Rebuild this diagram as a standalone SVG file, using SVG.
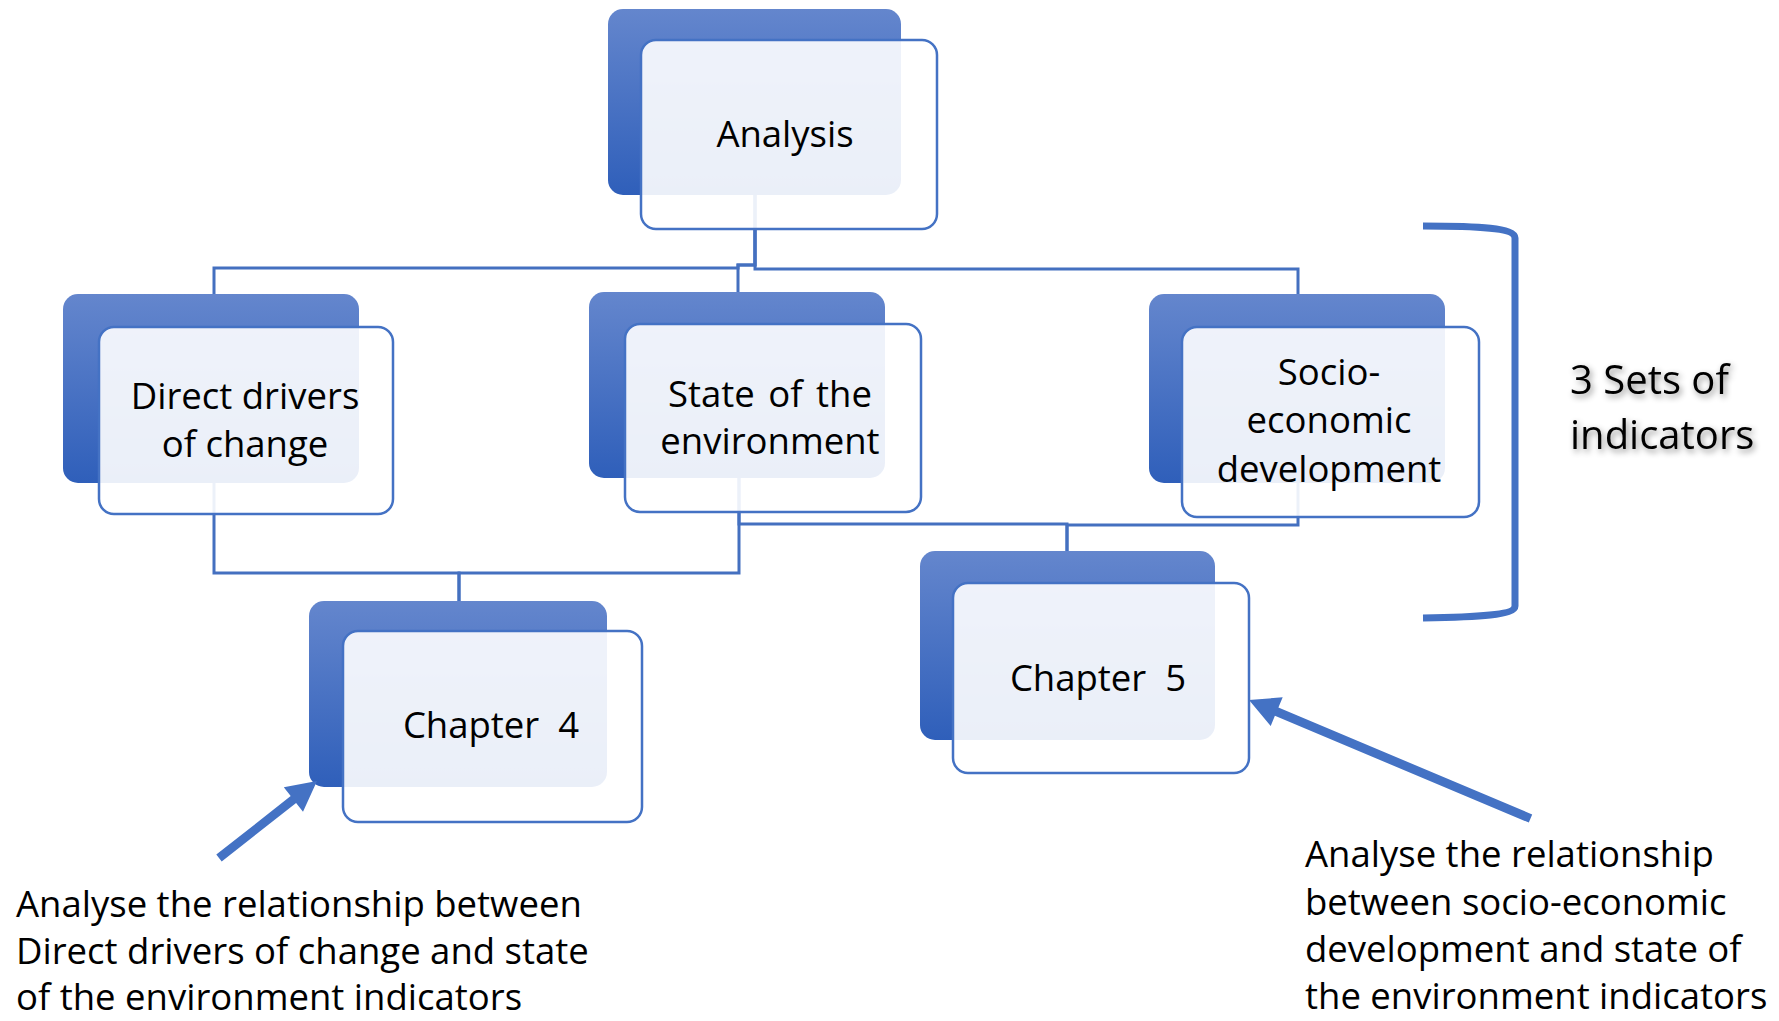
<svg xmlns="http://www.w3.org/2000/svg" width="1779" height="1021" viewBox="0 0 1779 1021">
<style>
.back{fill:url(#bg);}
.front{fill:#ffffff;fill-opacity:0.9;stroke:#4472C4;stroke-width:2.5;}
.conn{fill:none;stroke:#4470C0;stroke-width:3;}
.t{font-family:"Open Sans","Liberation Sans",sans-serif;font-size:36.5px;fill:#000;}
.c{text-anchor:middle;}
.blue{fill:#4472C4;}
</style>
<defs>
<linearGradient id="bg" x1="0" y1="0" x2="0" y2="1">
<stop offset="0" stop-color="#6486CD"/>
<stop offset="1" stop-color="#2F5FBA"/>
</linearGradient>
<filter id="sh" x="-20%" y="-40%" width="140%" height="180%">
<feDropShadow dx="2" dy="3" stdDeviation="3" flood-color="#000" flood-opacity="0.45"/>
</filter>
</defs>
<rect width="1779" height="1021" fill="#ffffff"/>
<g id="connectors">
<path class="conn" d="M755,195 V265 H738 V268 H214 V294"/>
<path class="conn" d="M755,195 V265 H738 V292"/>
<path class="conn" d="M755,195 V269 H1298 V294"/>
<path class="conn" d="M214,483 V573 H459 V601"/>
<path class="conn" d="M739,478 V573 H459 V601"/>
<path class="conn" d="M739,478 V524 H1067 V551"/>
<path class="conn" d="M1298,483 V525 H1067 V551"/>
</g>
<g id="analysis">
<rect class="back" x="608" y="9" width="293" height="186" rx="15"/>
<rect class="front" x="641" y="40" width="296" height="189" rx="15"/>
<text class="t c" x="785" y="147">Analysis</text>
</g>
<g id="direct-drivers">
<rect class="back" x="63" y="294" width="296" height="189" rx="15"/>
<rect class="front" x="99" y="327" width="294" height="187" rx="15"/>
<text class="t c" x="245" y="409">Direct drivers</text>
<text class="t c" x="245" y="457">of change</text>
</g>
<g id="state-environment">
<rect class="back" x="589" y="292" width="296" height="186" rx="15"/>
<rect class="front" x="625" y="324" width="296" height="188" rx="15"/>
<text class="t c" x="770" y="407" word-spacing="4">State of the</text>
<text class="t c" x="770" y="454">environment</text>
</g>
<g id="socio-economic">
<rect class="back" x="1149" y="294" width="296" height="189" rx="15"/>
<rect class="front" x="1182" y="327" width="297" height="190" rx="15"/>
<text class="t c" x="1329" y="385">Socio-</text>
<text class="t c" x="1329" y="433">economic</text>
<text class="t c" x="1329" y="482">development</text>
</g>
<g id="chapter4">
<rect class="back" x="309" y="601" width="298" height="186" rx="15"/>
<rect class="front" x="343" y="631" width="299" height="191" rx="15"/>
<text class="t c" x="491" y="738" xml:space="preserve">Chapter  4</text>
</g>
<g id="chapter5">
<rect class="back" x="920" y="551" width="295" height="189" rx="15"/>
<rect class="front" x="953" y="583" width="296" height="190" rx="15"/>
<text class="t c" x="1098" y="691" xml:space="preserve">Chapter  5</text>
</g>
<g id="bracket">
<path d="M1423,226 C1480,226 1515,228 1515,238 V606 C1515,615 1480,617 1423,618" fill="none" stroke="#4472C4" stroke-width="7"/>
<text class="t" x="1570" y="394" style="font-size:40px" filter="url(#sh)">3 Sets of</text>
<text class="t" x="1570" y="449" style="font-size:40px" filter="url(#sh)">indicators</text>
</g>
<g id="arrows">
<polygon class="blue" points="216.3,854.6 290.7,796.1 283.8,787.3 317,781 303,811.7 296.1,802.9 221.7,861.4"/>
<polygon class="blue" points="1532.2,814.4 1278.4,707.5 1282.7,697.3 1249,700 1270.7,725.9 1274.9,715.8 1528.8,822.6"/>
</g>
<g id="note-left">
<text class="t" x="16" y="917">Analyse the relationship between</text>
<text class="t" x="16" y="964">Direct drivers of change and state</text>
<text class="t" x="16" y="1010">of the environment indicators</text>
</g>
<g id="note-right">
<text class="t" x="1305" y="867">Analyse the relationship</text>
<text class="t" x="1305" y="915">between socio-economic</text>
<text class="t" x="1305" y="962">development and state of</text>
<text class="t" x="1305" y="1009">the environment indicators</text>
</g>
</svg>
